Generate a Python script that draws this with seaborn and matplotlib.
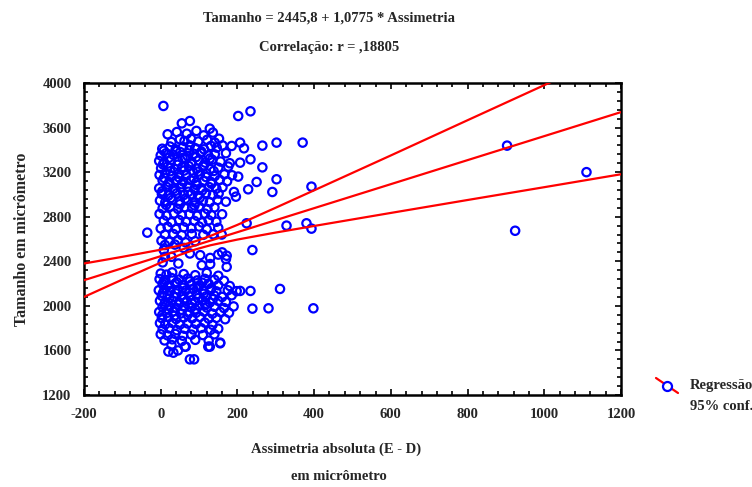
import matplotlib
matplotlib.use("Agg")
import matplotlib.pyplot as plt
from matplotlib.lines import Line2D
from matplotlib.ticker import MultipleLocator
import numpy as np
import pandas as pd
import seaborn as sns

# ---- regression reported in the title ----
intercept = 2445.8
slope = 1.0775
corr_label = ",18805"

# ---- 95% confidence band of the fitted mean ----
band_x = [-200, -100, 0, 50, 90, 130, 200, 300, 400, 600, 800, 1000, 1200]
band_upper = [2380, 2440, 2504, 2542, 2579, 2628, 2727, 2881, 3037, 3350, 3666, 3981, 4297]
band_lower = [2080, 2236, 2388, 2458, 2506, 2544, 2595, 2658, 2717, 2834, 2950, 3065, 3181]

# ---- observations: absolute asymmetry (x) and size (y), in micrometres ----
asym_outer = [7, 55, 76, 128, 202, 234, 185, 207, 217, 265, 302, 370,
              207, 234, 265, 250, 302, 291, 228, 196, 191, 202,
              393, 224, 328, 380, 393, -35, 239, 170, 160,
              207, 234, 311, 239, 281, 398,
              155, 128, 76, 87, 65, 33,
              903, 924, 1110]
size_outer = [3794, 3638, 3659, 3590, 3704, 3746, 3435, 3465, 3414, 3438, 3465, 3465,
              3285, 3315, 3243, 3112, 3136, 3022, 3046, 2980, 3022, 3160,
              3070, 2741, 2720, 2741, 2693, 2657, 2501, 2420, 2480,
              2134, 2134, 2152, 1975, 1978, 1978,
              1670, 1634, 1520, 1520, 1634, 1580,
              3438, 2674, 3200]

asym_upper = [18, 42, 68, 93, 112, 136,
              28, 50, 62, 79, 98, 121, 141, 152,
              4, 24, 39, 58, 76, 90, 113, 131, 146, 161,
              0, 14, 33, 51, 70, 86, 104, 124, 141, 170,
              -4, 9, 27, 46, 64, 81, 99, 116, 134, 156, 180,
              1, 18, 37, 56, 73, 94, 111, 129, 150, 176,
              -3, 12, 30, 47, 67, 85, 102, 120, 141, 166, 186,
              5, 22, 41, 59, 78, 93, 112, 131, 154, 173,
              -4, 15, 33, 52, 70, 88, 105, 126, 145, 161,
              3, 20, 42, 60, 80, 97, 118, 136, 151,
              -2, 12, 30, 50, 68, 90, 110, 128, 148, 170,
              5, 25, 45, 62, 82, 100, 122, 140,
              -3, 15, 35, 55, 75, 95, 115, 132, 160,
              8, 28, 48, 66, 88, 108, 125, 145,
              0, 18, 40, 60, 80, 100, 120, 150,
              11, 33, 55, 81, 111, 137, 159,
              2, 22, 45, 65, 90,
              11, 37, 60, 8,
              28, 76, 103, 129, 150, 172, 11,
              46, 107, 129, 172, 5]
size_upper = [3540, 3560, 3545, 3570, 3530, 3555,
              3470, 3495, 3480, 3500, 3475, 3490, 3465, 3500,
              3410, 3430, 3405, 3425, 3440, 3415, 3405, 3435, 3420, 3440,
              3350, 3370, 3355, 3380, 3345, 3365, 3372, 3350, 3360, 3370,
              3300, 3285, 3310, 3295, 3318, 3290, 3305, 3285, 3312, 3295, 3280,
              3235, 3250, 3228, 3245, 3255, 3232, 3248, 3226, 3240, 3250,
              3175, 3190, 3168, 3185, 3172, 3195, 3178, 3188, 3165, 3180, 3172,
              3125, 3110, 3130, 3115, 3128, 3108, 3122, 3112, 3130, 3118,
              3055, 3068, 3050, 3062, 3070, 3048, 3058, 3066, 3052, 3064,
              3005, 2990, 3010, 2995, 3002, 2988, 3012, 2996, 3008,
              2945, 2930, 2950, 2935, 2948, 2928, 2942, 2930, 2950, 2935,
              2875, 2890, 2870, 2885, 2878, 2892, 2868, 2884,
              2825, 2810, 2830, 2815, 2822, 2808, 2828, 2815, 2822,
              2765, 2750, 2770, 2755, 2762, 2748, 2768, 2755,
              2695, 2710, 2690, 2705, 2698, 2712, 2688, 2700,
              2640, 2645, 2635, 2645, 2638, 2642, 2640,
              2585, 2575, 2590, 2570, 2580,
              2546, 2550, 2520, 2500,
              2440, 2470, 2455, 2430, 2460, 2450, 2440,
              2380, 2365, 2375, 2350, 2390]

# extra observations between the rows of the upper group
asym_upper_mid = [8, 40, 74, 106, 22, 57, 92, 128,
                  6, 44, 80, 112, 25, 61, 97, 138,
                  9, 48, 86, 118, 20, 55, 94, 132,
                  4, 38, 72, 108, 26, 64, 102, 14, 50, 88]
size_upper_mid = [3392, 3388, 3396, 3384, 3330, 3326, 3334, 3322,
                  3270, 3266, 3274, 3262, 3208, 3214, 3204, 3210,
                  3148, 3152, 3144, 3156, 3088, 3092, 3084, 3096,
                  3028, 3032, 3024, 3036, 2968, 2962, 2972, 2906, 2912, 2902]

asym_lower = [0, 15, 30, 60, 90, 120, 150,
              -3, 12, 28, 48, 70, 95, 115, 140, 165,
              5, 20, 38, 58, 80, 100, 125, 150, 180,
              -5, 10, 25, 45, 65, 85, 110, 130, 145, 175, 198,
              3, 18, 35, 55, 75, 95, 118, 140, 160, 185,
              -2, 12, 30, 48, 68, 90, 108, 128, 150, 170,
              5, 22, 40, 60, 80, 100, 120, 140, 165, 190,
              -4, 15, 32, 52, 72, 92, 112, 135, 155, 178,
              3, 20, 40, 60, 82, 102, 125, 145, 168,
              -2, 12, 30, 50, 70, 92, 115, 135,
              5, 22, 42, 62, 85, 105, 130, 150,
              0, 18, 38, 58, 80, 110, 140,
              10, 30, 55, 90, 125,
              28, 63, 124, 155,
              20, 45]
size_lower = [2290, 2280, 2300, 2285, 2275, 2295, 2270,
              2240, 2232, 2250, 2236, 2245, 2228, 2242, 2235, 2225,
              2195, 2185, 2200, 2188, 2192, 2180, 2198, 2185, 2178,
              2140, 2148, 2132, 2145, 2138, 2150, 2135, 2142, 2130, 2140, 2132,
              2090, 2098, 2082, 2095, 2088, 2100, 2085, 2092, 2080, 2095,
              2045, 2035, 2048, 2032, 2042, 2038, 2050, 2030, 2045, 2035,
              1990, 1998, 1982, 1995, 1988, 2000, 1985, 1992, 1980, 1995,
              1945, 1935, 1948, 1932, 1942, 1938, 1950, 1930, 1945, 1938,
              1890, 1898, 1882, 1895, 1888, 1900, 1885, 1892, 1880,
              1845, 1835, 1848, 1832, 1842, 1838, 1850, 1830,
              1790, 1798, 1782, 1795, 1788, 1800, 1785, 1795,
              1745, 1735, 1748, 1732, 1742, 1738, 1745,
              1690, 1700, 1685, 1695, 1688,
              1649, 1634, 1634, 1664,
              1590, 1600]

# extra observations between the rows of the lower group
asym_lower_mid = [8, 42, 76, 108, 24, 58, 96, 132,
                  6, 40, 74, 112, 22, 60, 98, 136,
                  10, 46, 82, 116, 20, 56, 90, 4, 36, 70]
size_lower_mid = [2216, 2212, 2220, 2208, 2166, 2162, 2170, 2160,
                  2116, 2112, 2120, 2108, 2066, 2062, 2070, 2060,
                  2016, 2012, 2020, 2008, 1966, 1962, 1970, 1916, 1912, 1920]

x_ticks = [-200, 0, 200, 400, 600, 800, 1000, 1200]
y_ticks = [1200, 1600, 2000, 2400, 2800, 3200, 3600, 4000]

df = pd.DataFrame({
    "asym": asym_outer + asym_upper + asym_upper_mid + asym_lower + asym_lower_mid,
    "size": size_outer + size_upper + size_upper_mid + size_lower + size_lower_mid,
})

sns.set_style("white")
plt.rcParams["font.family"] = ["Liberation Serif", "DejaVu Serif"]
plt.rcParams["font.weight"] = "bold"
plt.rcParams["axes.unicode_minus"] = False

fig = plt.figure(figsize=(7.52, 4.87), dpi=100)
ax = fig.add_axes([84 / 752, 1 - 395 / 487, 537 / 752, 312 / 487])

blue = "#0000ff"
red = "#ff0000"

sns.scatterplot(data=df, x="asym", y="size", ax=ax, marker="o",
                facecolors="none", edgecolor=blue, linewidth=1.6, s=36,
                zorder=3, legend=False)

xs = np.array([-200.0, 1200.0])
ax.plot(xs, intercept + slope * xs, color=red, lw=1.6, zorder=4)
ax.plot(band_x, band_upper, color=red, lw=1.6, zorder=4)
ax.plot(band_x, band_lower, color=red, lw=1.6, zorder=4)

ax.set_xlim(-200, 1200)
ax.set_ylim(1200, 4000)
ax.set_xticks(x_ticks)
ax.set_yticks(y_ticks)
ax.xaxis.set_minor_locator(MultipleLocator(40))
ax.yaxis.set_minor_locator(MultipleLocator(80))
ax.tick_params(which="both", direction="in", top=True, right=True,
               bottom=True, left=True, color="black", width=1.2)
ax.tick_params(which="major", length=4.5, labelsize=10.5, pad=9)
ax.tick_params(which="minor", length=3)
for lab in ax.get_xticklabels() + ax.get_yticklabels():
    lab.set_fontweight("bold")
for sp in ax.spines.values():
    sp.set_visible(True)
    sp.set_color("black")
    sp.set_linewidth(1.8)

ax.set_xlabel("")
ax.set_ylabel("Tamanho em micrômetro", fontsize=11.5, fontweight="bold", labelpad=9)

title_text = f"Tamanho = {intercept:.1f} + {slope:.4f} * Assimetria".replace(".", ",")
fig.text(329 / 752, 1 - 18 / 487, title_text,
         ha="center", va="center", fontsize=10.5, fontweight="bold")
fig.text(329 / 752, 1 - 48 / 487, f"Correlação: r = {corr_label}",
         ha="center", va="center", fontsize=10.5, fontweight="bold")

fig.text(336 / 752, 1 - 449 / 487, "Assimetria absoluta (E - D)",
         ha="center", va="center", fontsize=10.5, fontweight="bold")
fig.text(339 / 752, 1 - 477 / 487, "em micrômetro",
         ha="center", va="center", fontsize=10.5, fontweight="bold")

# legend key: red line crossed by a blue open circle
fig.add_artist(Line2D([656 / 752, 678 / 752], [1 - 378 / 487, 1 - 393 / 487],
                      color=red, lw=1.6, transform=fig.transFigure))
fig.add_artist(Line2D([667 / 752], [1 - 385.5 / 487], marker="o", markersize=6.5,
                      markerfacecolor="white", markeredgecolor=blue, markeredgewidth=1.6,
                      transform=fig.transFigure))
fig.text(690 / 752, 1 - 385 / 487, "Regressão", ha="left", va="center",
         fontsize=10.5, fontweight="bold")
fig.text(690 / 752, 1 - 407 / 487, "95% conf.", ha="left", va="center",
         fontsize=10.5, fontweight="bold")

fig.savefig("out.png", dpi=100, facecolor="white")
